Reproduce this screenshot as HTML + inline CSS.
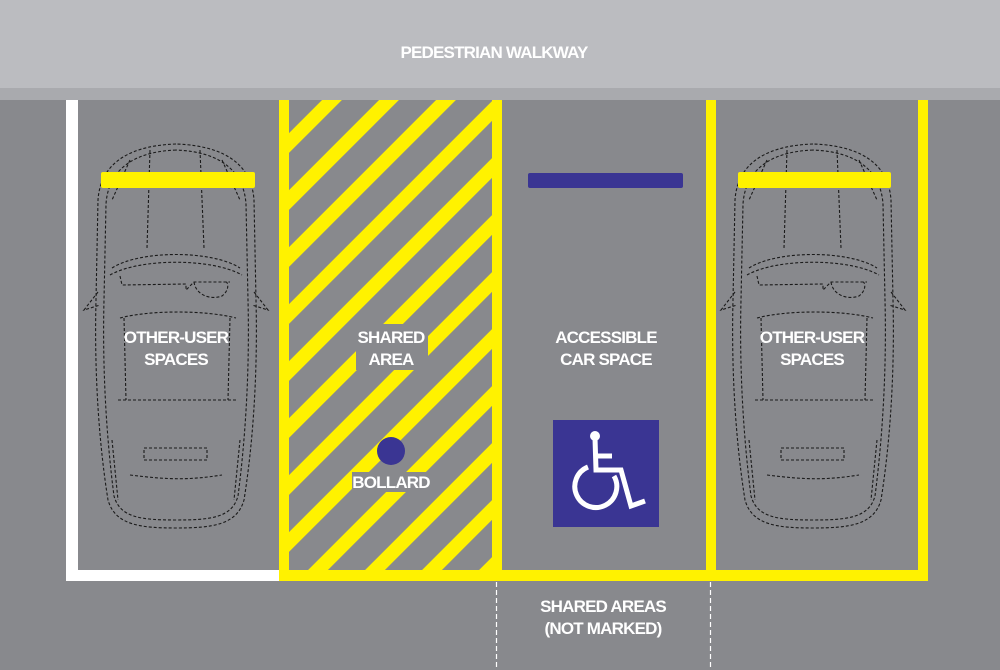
<!DOCTYPE html>
<html><head><meta charset="utf-8"><style>
html,body{margin:0;padding:0;width:1000px;height:670px;overflow:hidden;}
body{background:#88898d;font-family:"Liberation Sans",sans-serif;}
svg{display:block;position:absolute;left:0;top:0}
.t{font-family:"Liberation Sans",sans-serif;font-weight:bold;font-size:17px;fill:#fff;text-anchor:middle;letter-spacing:-0.8px}
</style></head><body>
<svg width="1000" height="670" viewBox="0 0 1000 670">
<defs>
<clipPath id="hc"><rect x="289" y="100" width="203" height="470"/></clipPath>
<g id="car" fill="none" stroke="#1a1a1a" stroke-width="1.1" stroke-dasharray="3,2">
<path d="M176,144 C120,146 100,170 98,200 L96,300 C94,380 100,450 108,500 C115,525 140,528 176,528 C212,528 237,525 244,500 C252,450 258,380 256,300 L254,200 C252,170 232,146 176,144 Z"/>
<path d="M176,150 C128,152 108,174 106,204 L104,300 C102,380 108,450 114,496 C120,518 142,520 176,520 C210,520 232,518 238,496 C244,450 250,380 248,300 L246,204 C244,174 224,152 176,150 Z"/>
<path d="M150,150 L147,248 M200,150 L204,248 M130,160 L112,200 M222,160 L240,200"/>
<path d="M112,268 C140,250 212,250 240,268 M110,275 C140,258 212,258 242,275"/>
<path d="M120,318 C150,310 205,310 236,318 M124,318 L126,400 M230,318 L228,400 M118,400 L236,400"/>
<path d="M120,276 L122,285 L186,284 L186,290 L194,282 L230,282 M194,282 C196,296 212,300 222,296 C230,290 228,282 226,282"/>
<path d="M130,475 C170,480 190,480 222,475 M112,440 L118,500 M240,440 L234,500"/>
<rect x="144" y="448" width="63" height="12"/>
<path d="M98,292 L84,310 L100,305 M254,292 L268,310 L252,305"/>
</g>
</defs>
<rect x="0" y="0" width="1000" height="670" fill="#88898d"/>
<rect x="0" y="0" width="1000" height="88" fill="#bbbcc0"/>
<rect x="0" y="88" width="1000" height="12" fill="#a9aaae"/>
<text class="t" x="494" y="58">PEDESTRIAN WALKWAY</text>

<rect x="66" y="100" width="12" height="481" fill="#fff"/>
<rect x="66" y="570" width="214" height="11" fill="#fff"/>

<g clip-path="url(#hc)" stroke="#fff200" stroke-width="14">
<line x1="0" y1="375" x2="700" y2="-325"/>
<line x1="0" y1="432" x2="800" y2="-368"/>
<line x1="0" y1="489" x2="800" y2="-311"/>
<line x1="0" y1="546" x2="800" y2="-254"/>
<line x1="0" y1="603" x2="800" y2="-197"/>
<line x1="0" y1="660" x2="800" y2="-140"/>
<line x1="0" y1="717" x2="800" y2="-83"/>
<line x1="0" y1="774" x2="800" y2="-26"/>
<line x1="0" y1="831" x2="900" y2="-69"/>
<line x1="0" y1="888" x2="900" y2="-12"/>
<line x1="0" y1="945" x2="1000" y2="-55"/>
<line x1="0" y1="1002" x2="1100" y2="-98"/>
<line x1="0" y1="1059" x2="1100" y2="-41"/>
<line x1="0" y1="1116" x2="1200" y2="-84"/>
</g>
<g fill="#fff200">
<rect x="279" y="100" width="10" height="481"/>
<rect x="492" y="100" width="10" height="481"/>
<rect x="706" y="100" width="10" height="481"/>
<rect x="918" y="100" width="10" height="481"/>
<rect x="279" y="570" width="649" height="11"/>
</g>
<g stroke="#fff" stroke-width="1.2" stroke-dasharray="5,3">
<line x1="496.5" y1="582" x2="496.5" y2="670"/>
<line x1="710.5" y1="582" x2="710.5" y2="670"/>
</g>

<use href="#car"/>
<use href="#car" transform="translate(637,0)"/>
<rect x="101" y="172" width="154" height="16" rx="2" fill="#fff200"/>
<rect x="738" y="172" width="153" height="16" rx="2" fill="#fff200"/>
<rect x="528" y="173" width="155" height="15" rx="2" fill="#3a3593"/>

<text class="t" x="176" y="343">OTHER-USER</text>
<text class="t" x="176" y="365">SPACES</text>
<text class="t" x="812" y="343">OTHER-USER</text>
<text class="t" x="812" y="365">SPACES</text>
<rect x="356" y="324" width="72" height="46" fill="#88898d"/>
<text class="t" x="391" y="343">SHARED</text>
<text class="t" x="391" y="365">AREA</text>
<text class="t" x="606" y="343">ACCESSIBLE</text>
<text class="t" x="606" y="365">CAR SPACE</text>
<circle cx="391" cy="451" r="14" fill="#3a3593"/>
<rect x="352" y="472" width="78" height="20" fill="#88898d"/>
<text class="t" x="391" y="488">BOLLARD</text>
<text class="t" x="603" y="612">SHARED AREAS</text>
<text class="t" x="603" y="634">(NOT MARKED)</text>

<rect x="553" y="420" width="106" height="107" fill="#3a3593"/>
<g fill="none" stroke="#fff" stroke-width="5">
<circle cx="595" cy="436" r="5" fill="#fff" stroke="none"/>
<path d="M595,438 L596,470 L621,470 L631,506 L645,501"/>
<path d="M614,476 A21,21 0 1 1 588,467"/>
<line x1="596" y1="456" x2="612" y2="456"/>
</g>
</svg>
</body></html>
